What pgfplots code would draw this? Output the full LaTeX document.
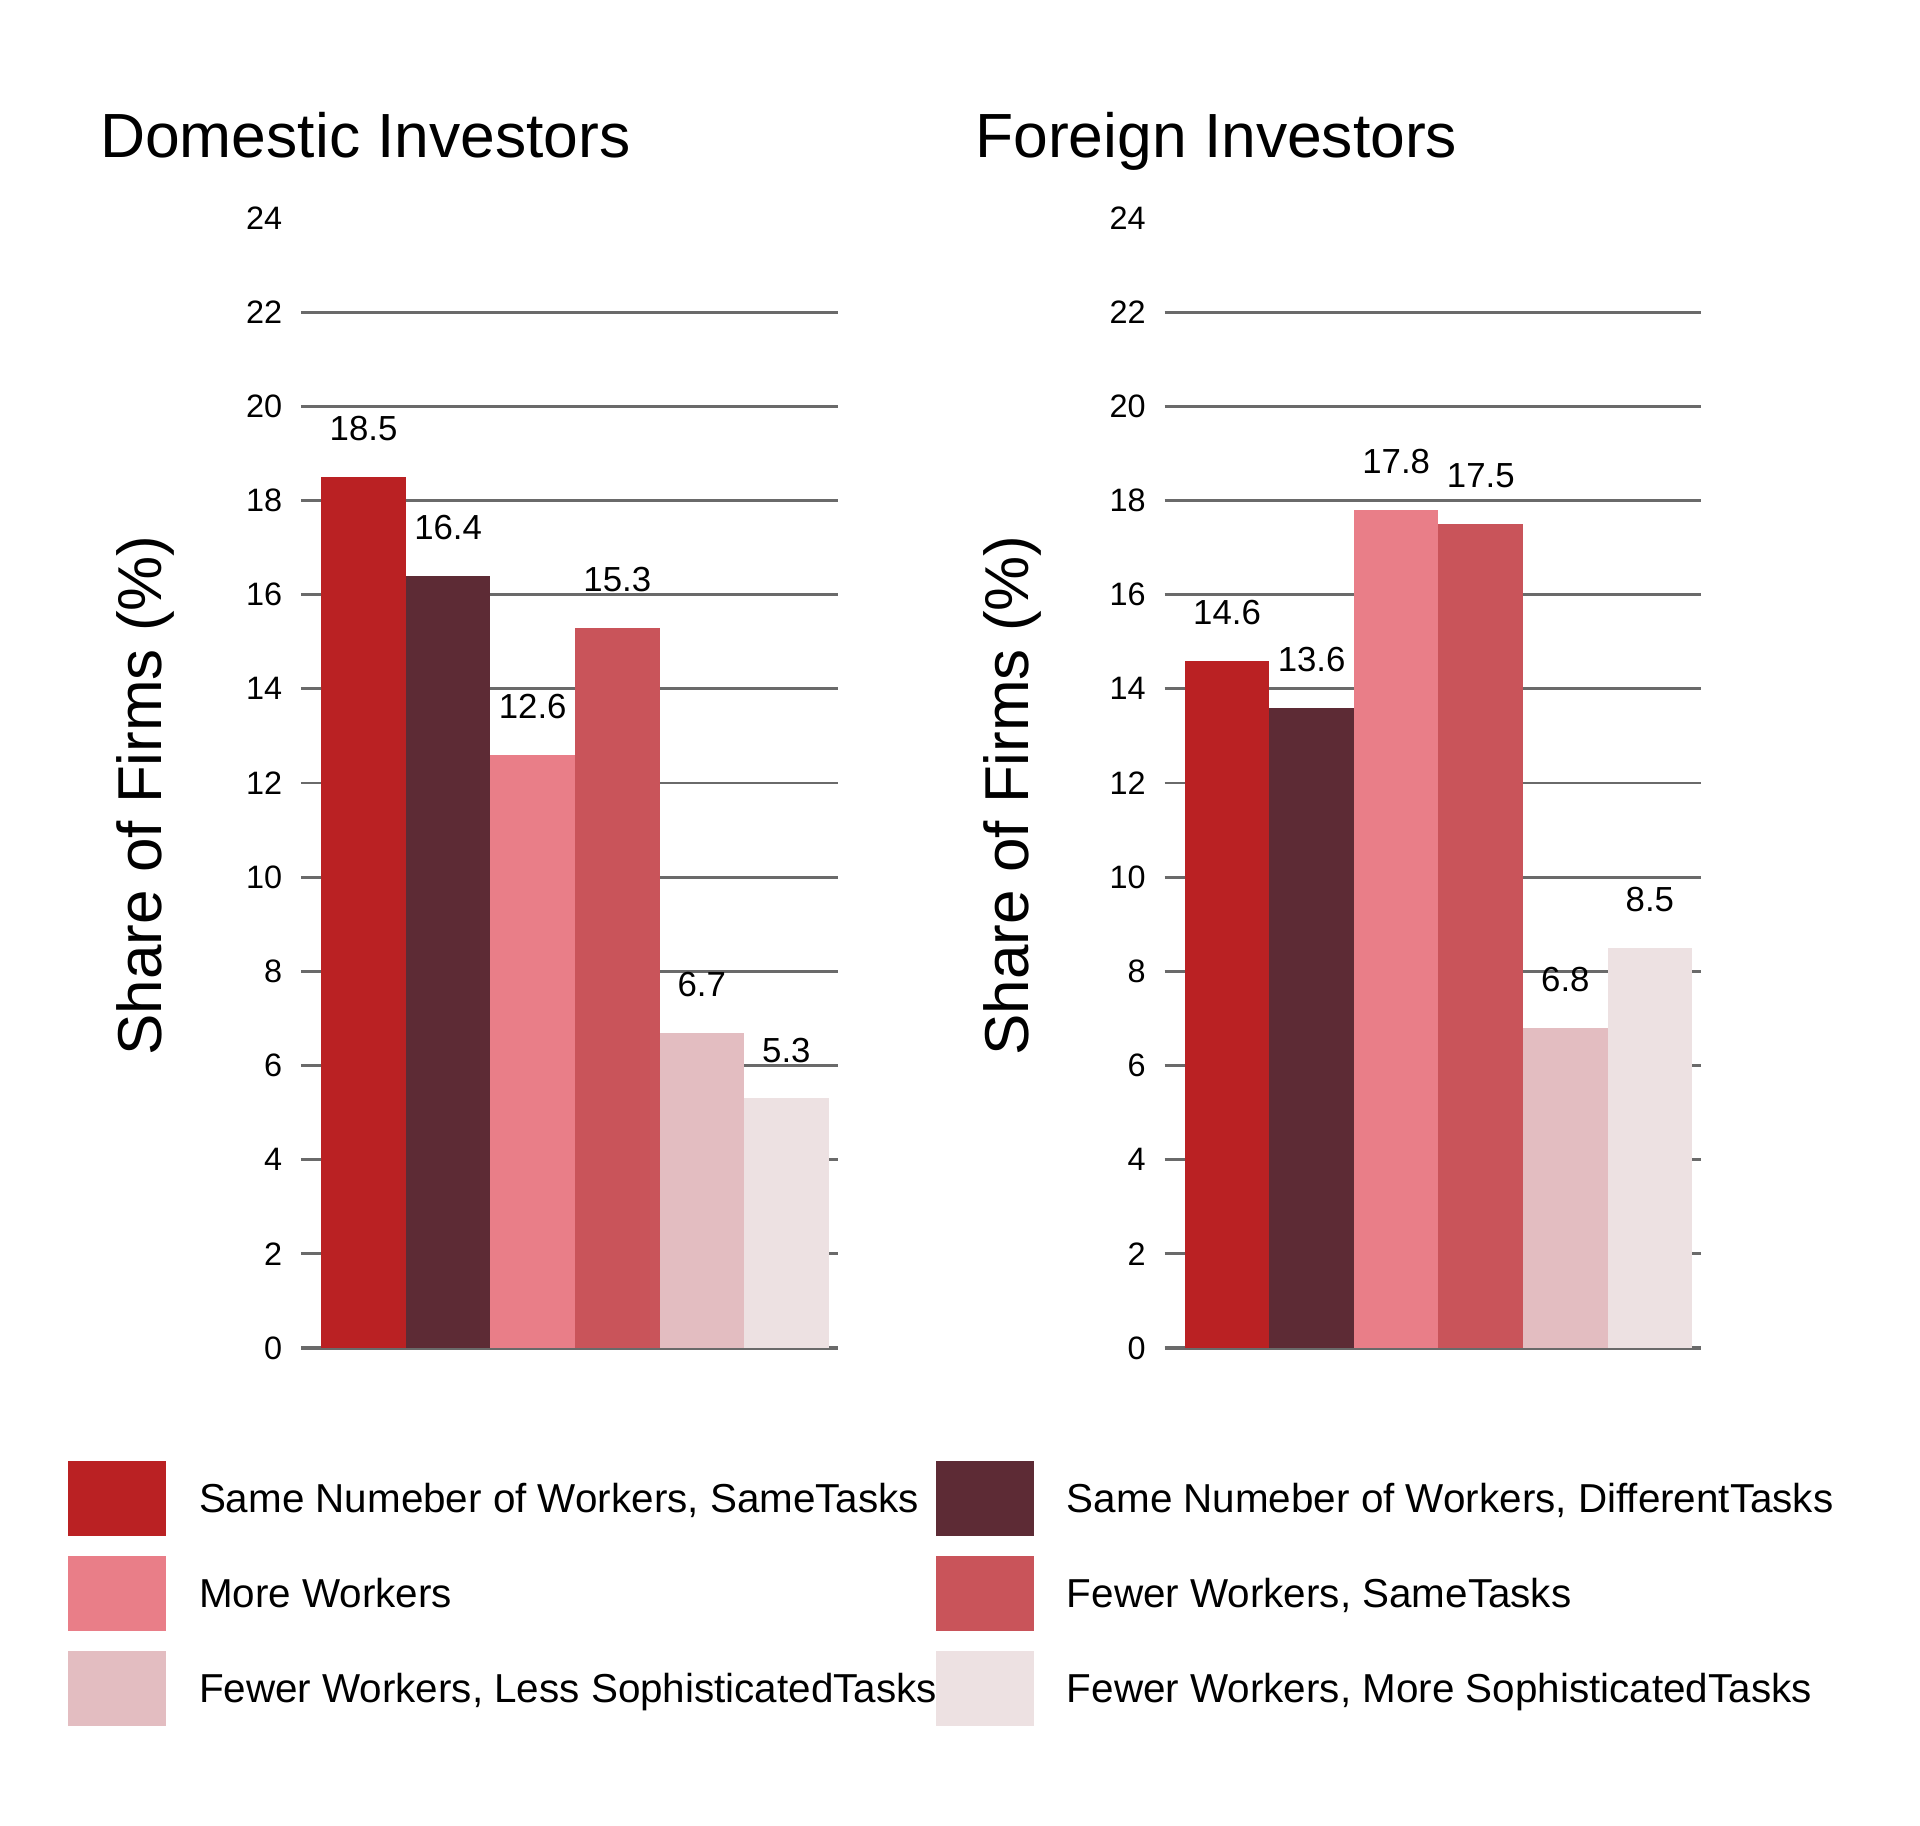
\documentclass[border=0pt]{standalone}
\usepackage{fontspec}
\setmainfont{Liberation Sans}
\usepackage{pgfplots}
\pgfplotsset{compat=1.18}
\definecolor{c1}{HTML}{BA2123}
\definecolor{c2}{HTML}{5D2B35}
\definecolor{c3}{HTML}{E97E88}
\definecolor{c4}{HTML}{C9545A}
\definecolor{c5}{HTML}{E3BDC1}
\definecolor{c6}{HTML}{EDE1E2}
\definecolor{gridgray}{HTML}{6A6A6A}
\pgfplotsset{
  /pgf/number format/assume math mode=true,
  ybar legend/.style={legend image code/.code={\fill[##1] (0pt,-5.8pt) rectangle (24.5pt,12.95pt);}},
  panel/.style={
    ybar, bar width=1,
    anchor=south west,
    scale only axis,
    width=134.25pt, height=282.5pt,
    xmin=0.26, xmax=6.61, ymin=0, ymax=24,
    axis x line*=bottom, axis y line*=left,
    x axis line style={draw=gridgray, line width=1.1pt},
    y axis line style={draw=none},
    xtick=\empty,
    ytick={0,2,...,22}, extra y ticks={24}, extra y tick style={grid=none},
    ymajorgrids, major grid style={draw=gridgray, line width=0.72pt},
    major tick length=0pt, ytick style={draw=none},
    yticklabel style={font=\fontsize{8.1}{10}\selectfont, inner sep=0pt, xshift=-4.5pt},
    nodes near coords={\pgfmathprintnumber[fixed,fixed zerofill,precision=1]{\pgfplotspointmeta}},
    every node near coord/.append style={font=\fontsize{8.7}{10}\selectfont, inner sep=0pt, anchor=south, yshift=8.8pt, text=black},
    clip=false,
    ylabel={Share of Firms (\%)},
    ylabel style={font=\fontsize{15.5}{18}\selectfont, anchor=center},
  },
  barA/.style={fill=c1, draw=none, bar shift=0pt},
  barB/.style={fill=c2, draw=none, bar shift=0pt},
  barC/.style={fill=c3, draw=none, bar shift=0pt},
  barD/.style={fill=c4, draw=none, bar shift=0pt},
  barE/.style={fill=c5, draw=none, bar shift=0pt},
  barF/.style={fill=c6, draw=none, bar shift=0pt},
}
\begin{document}
\begin{tikzpicture}
\path[use as bounding box] (0,0) rectangle (480pt,456.5pt);
\node[anchor=base west, inner sep=0pt, font=\fontsize{15.6}{18}\selectfont] at (24.85pt,417pt) {Domestic Investors};
\node[anchor=base west, inner sep=0pt, font=\fontsize{15.6}{18}\selectfont] at (243.6pt,417pt) {Foreign Investors};
\begin{axis}[panel,
  at={(75.25pt,119.5pt)},
  ylabel style={at={(axis description cs:-0.2905,0.489)}},
  legend columns=2,
  legend style={at={(axis description cs:-0.4339,-0.1)}, anchor=north west,
    draw=none, fill=none, inner sep=0pt, outer sep=0pt, row sep=5pt,
    nodes={inner sep=0pt, anchor=base west, font=\fontsize{10.1}{12}\selectfont, text=black},
    /tikz/every odd column/.style={column sep=8.25pt},
    /tikz/every even column/.style={column sep=0pt}},
]
\addplot[barA] coordinates {(1,18.5)};
\addlegendentry{\makebox[184.25pt][l]{Same Numeber of Workers, SameTasks}}
\addplot[barB] coordinates {(2,16.4)};
\addlegendentry{Same Numeber of Workers, DifferentTasks}
\addplot[barC] coordinates {(3,12.6)};
\addlegendentry{\makebox[184.25pt][l]{More Workers}}
\addplot[barD] coordinates {(4,15.3)};
\addlegendentry{Fewer Workers, SameTasks}
\addplot[barE] coordinates {(5,6.7)};
\addlegendentry{\makebox[184.25pt][l]{Fewer Workers, Less SophisticatedTasks}}
\addplot[barF] coordinates {(6,5.3)};
\addlegendentry{Fewer Workers, More SophisticatedTasks}
\end{axis}
\begin{axis}[panel,
  at={(291.125pt,119.5pt)},
  ylabel style={at={(axis description cs:-0.284,0.489)}},
]
\addplot[barA] coordinates {(1,14.6)};
\addplot[barB] coordinates {(2,13.6)};
\addplot[barC] coordinates {(3,17.8)};
\addplot[barD] coordinates {(4,17.5)};
\addplot[barE] coordinates {(5,6.8)};
\addplot[barF] coordinates {(6,8.5)};
\end{axis}
\end{tikzpicture}
\end{document}
